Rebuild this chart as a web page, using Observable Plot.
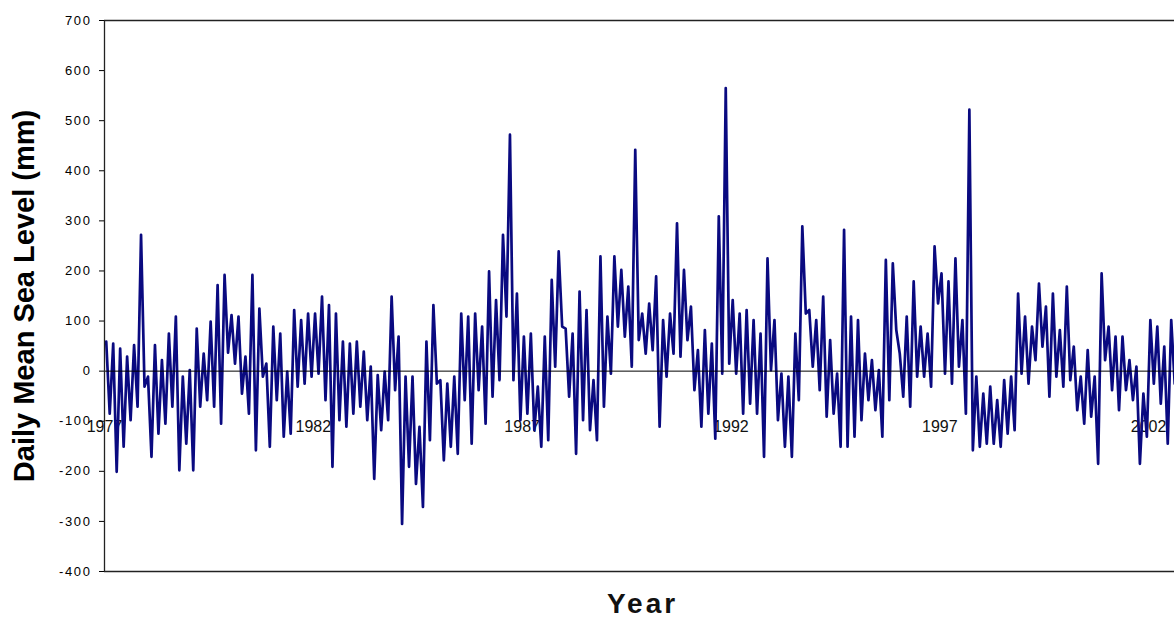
<!DOCTYPE html>
<html>
<head>
<meta charset="utf-8">
<script src="https://cdn.jsdelivr.net/npm/d3@7"></script>
<script src="https://cdn.jsdelivr.net/npm/@observablehq/plot@0.6"></script>
<style>
  html, body { margin: 0; padding: 0; background: #fff; }
  #chart svg { display: block; font-family: "Liberation Sans", Arial, sans-serif; }
  #chart g[aria-label="y-axis tick label"] text { letter-spacing: 1.6px; }
  #chart .xtitle text { letter-spacing: 3px; }
</style>
</head>
<body>
<div id="chart"></div>
<script>
// Time axis: start year, end of visible window, sampling periods per year (2-month periods)
const startYear = 1977;
const endYear = 2002.62;
const periodsPerYear = 6;

// Daily mean sea level (mm): upper and lower envelope of each 2-month period
const highs = [
  59, 55, 45, 29, 52, 272, -11, 52, 22, 75, 109, -11, 2, 85, 35, 99, 172, 192, 112, 109, 29, 192, 125, 15, 89, 75,
  -1, 122, 102, 115, 115, 149, 132, 115, 59, 55, 59, 39, 9, -8, -1, 149, 69, -11, -11, -111, 59, 132, -18, -25, -11, 115,
  109, 115, 89, 199, 142, 272, 472, 155, 69, 75, -31, 69, 182, 239, 85, 75, 159, 122, -18, 229, 109, 229, 202, 169, 442, 115, 135,
  189, 102, 115, 295, 202, 129, 42, 82, 55, 309, 565, 142, 115, 122, 102, 75, 225, 102, -5, -11, 75, 289, 122, 102, 149, 62, -5,
  282, 109, 102, 35, 22, 2, 222, 215, 35, 109, 179, 89, 75, 249, 195, 179, 225, 102, 522, -11, -45, -31, -58, -18, -11, 155, 109,
  89, 175, 129, 155, 82, 169, 49, -11, 42, -11, 195, 89, 69, 69, 22, 9, -45, 102, 89, 49, 102
];
const lows = [
  -85, -201, -151, -98, -71, -31, -171, -125, -105, -71, -198, -145, -198, -71, -58, -71, -105, 37, 15, -45, -85, -158, -11, -151, -58, -131,
  -125, -31, -25, -11, -5, -58, -191, -98, -111, -85, -71, -98, -215, -118, -98, -38, -305, -191, -225, -271, -138, -25, -178, -151, -165, -58,
  -145, -38, -105, -51, -18, 109, -18, -98, -85, -118, -151, -138, 9, 89, -51, -165, -98, -118, -138, -71, -5, 89, 69, 9, 62, 35, 42,
  -111, -11, 35, 29, 62, -38, -111, -85, -135, -5, 15, -5, -85, -65, -85, -171, 2, -98, -151, -171, -58, 115, 9, -38, -91, -85, -151,
  -151, -131, -98, -58, -78, -131, -58, 82, -51, -71, -11, -11, -31, 135, -5, -25, 9, -85, -158, -151, -145, -145, -151, -125, -118, -5, -25,
  22, 49, -51, -11, -31, -18, -78, -105, -91, -185, 22, -38, -78, -38, -58, -185, -131, -25, -65, -145, -25
];

const yTicks = [-400, -300, -200, -100, 0, 100, 200, 300, 400, 500, 600, 700];
const yearLabels = [1977, 1982, 1987, 1992, 1997, 2002];
const yLabel = "Daily Mean Sea Level (mm)";
const xLabel = "Year";

// Interleave each period's high and low into one time series
const series = [];
highs.forEach((h, i) => {
  const t0 = startYear + i / periodsPerYear;
  series.push({t: t0 + 0.25 / periodsPerYear, v: h});
  series.push({t: t0 + 0.75 / periodsPerYear, v: lows[i]});
});

const chart = Plot.plot({
  width: 1174,
  height: 618,
  marginLeft: 104,
  marginRight: 0,
  marginTop: 20,
  marginBottom: 47,
  style: {background: "#fff", color: "#000", fontFamily: "'Liberation Sans', Arial, sans-serif", overflow: "visible"},
  x: {domain: [startYear, endYear], axis: null},
  y: {domain: [yTicks[0], yTicks[yTicks.length - 1]], axis: null},
  marks: [
    // year labels sit inside the plot, under the data
    Plot.text(yearLabels, {x: d => d, frameAnchor: "bottom", dy: -140, text: d => String(d), fontSize: 16, fill: "#111"}),
    Plot.line(series, {x: "t", y: "v", stroke: "#0a0a80", strokeWidth: 2.7, clip: true}),
    Plot.ruleY([0], {stroke: "#000", strokeWidth: 1}),
    // frame: top, bottom, left
    Plot.ruleY([yTicks[yTicks.length - 1]], {stroke: "#222", strokeWidth: 1.3}),
    Plot.ruleY([yTicks[0]], {stroke: "#222", strokeWidth: 1.3}),
    Plot.ruleX([startYear], {stroke: "#222", strokeWidth: 1.3}),
    Plot.axisY({ticks: yTicks, tickSize: 5, tickPadding: 8, fontSize: 13, label: null, tickFormat: d => String(d)}),
    Plot.text([yLabel], {frameAnchor: "left", textAnchor: "middle", dx: -80, rotate: -90, fontSize: 29, fontWeight: "bold", fill: "#000"}),
    Plot.text([xLabel], {frameAnchor: "bottom", dy: 41, dx: 3, fontSize: 28, fontWeight: "bold", fill: "#111", className: "xtitle"})
  ]
});
document.getElementById("chart").appendChild(chart);
</script>
</body>
</html>
